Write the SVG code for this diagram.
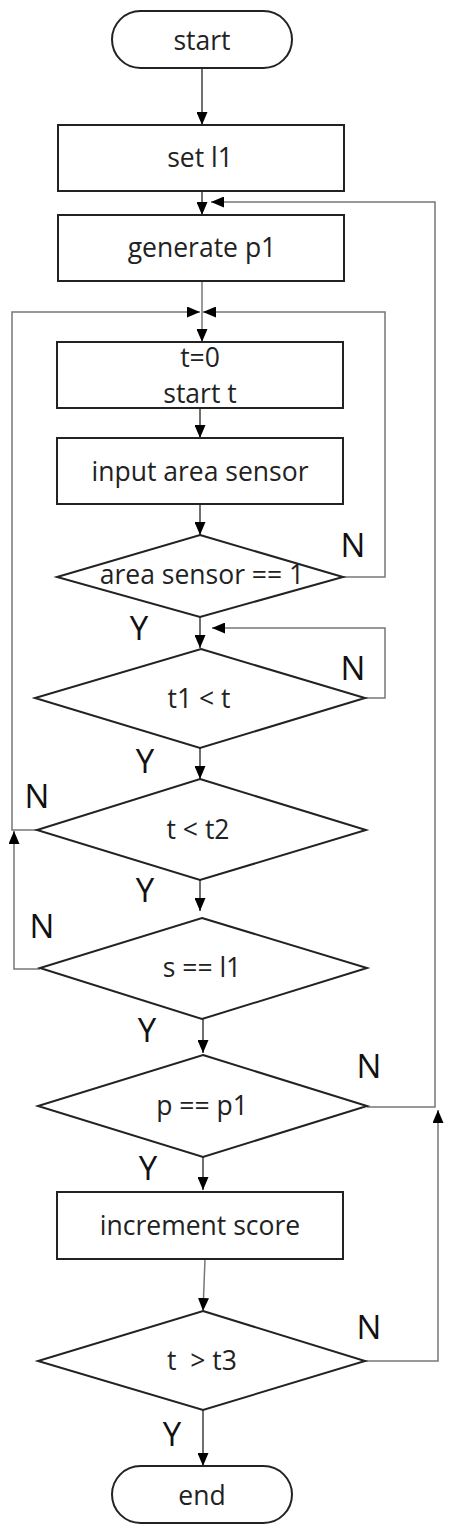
<svg xmlns="http://www.w3.org/2000/svg" width="452" height="1536" viewBox="0 0 452 1536">
<style>
.node{fill:#fff;stroke:#222;stroke-width:2}
.t{font-family:"Open Sans","Noto Sans",sans-serif;font-size:26.5px;fill:#222;text-anchor:middle}
.lb{font-family:"Open Sans","Noto Sans",sans-serif;font-size:33px;fill:#111;text-anchor:middle}
.c{fill:none;stroke:#333;stroke-width:1.4}
.g{fill:none;stroke:#777;stroke-width:1.5}
</style>
<defs>
<marker id="ah" markerUnits="userSpaceOnUse" markerWidth="13" markerHeight="11" refX="13" refY="5.5" orient="auto">
<path d="M0,0 L13,5.5 L0,11 Z" fill="#000"/>
</marker>
</defs>
<rect width="452" height="1536" fill="#fff"/>
<g id="connectors">
<path class="c" d="M202,68 V125" marker-end="url(#ah)"/>
<path class="c" d="M202,191 V215" marker-end="url(#ah)"/>
<path class="g" d="M202,281 V342" marker-end="url(#ah)"/>
<path class="c" d="M200,408 V438" marker-end="url(#ah)"/>
<path class="c" d="M200,504 V535" marker-end="url(#ah)"/>
<path class="c" d="M200,617 V648" marker-end="url(#ah)"/>
<path class="c" d="M200,748 V779" marker-end="url(#ah)"/>
<path class="c" d="M200,880 V911" marker-end="url(#ah)"/>
<path class="c" d="M203,1019 V1053" marker-end="url(#ah)"/>
<path class="c" d="M203,1157 V1190" marker-end="url(#ah)"/>
<path class="g" d="M205,1259 L203,1311" marker-end="url(#ah)"/>
<path class="c" d="M203,1410 V1466" marker-end="url(#ah)"/>
<path class="g" d="M343,577 H385 V312 H203" marker-end="url(#ah)"/>
<path class="g" d="M37,830 H12 V312 H200" marker-end="url(#ah)"/>
<path class="g" d="M365,698 H385 V628 H212" marker-end="url(#ah)"/>
<path class="g" d="M40,969 H14 V831" marker-end="url(#ah)"/>
<path class="g" d="M367,1107 H435 V202 H211" marker-end="url(#ah)"/>
<path class="g" d="M365,1361 H438 V1110" marker-end="url(#ah)"/>
</g>
<g id="start"><rect class="node" x="112" y="11" width="180" height="57" rx="28.5"/><text class="t" x="202" y="50">start</text></g>
<g id="set-l1"><rect class="node" x="58" y="125" width="286" height="66"/><text class="t" x="200" y="167">set l1</text></g>
<g id="generate-p1"><rect class="node" x="58" y="215" width="286" height="66"/><text class="t" x="202" y="257">generate p1</text></g>
<g id="start-t"><rect class="node" x="57" y="342" width="286" height="66"/><text class="t" x="200" y="367">t=0</text><text class="t" x="200" y="403">start t</text></g>
<g id="input-area-sensor"><rect class="node" x="57" y="438" width="286" height="66"/><text class="t" x="200" y="481">input area sensor</text></g>
<g id="d-area-sensor"><polygon class="node" points="200,535 343,577 200,617 57,577"/><text class="t" x="202" y="584">area sensor == 1</text></g>
<g id="d-t1"><polygon class="node" points="201,649 365,698 200,748 35,698"/><text class="t" x="199" y="708">t1 &lt; t</text></g>
<g id="d-t2"><polygon class="node" points="200,779 366,830 200,880 37,830"/><text class="t" x="198" y="839">t &lt; t2</text></g>
<g id="d-s"><polygon class="node" points="202,918 367,968 202,1019 40,968"/><text class="t" x="202" y="977">s == l1</text></g>
<g id="d-p"><polygon class="node" points="203,1055 367,1106 203,1157 38,1106"/><text class="t" x="202" y="1115">p == p1</text></g>
<g id="increment-score"><rect class="node" x="57" y="1192" width="286" height="67"/><text class="t" x="200" y="1235">increment score</text></g>
<g id="d-t3"><polygon class="node" points="203,1311 365,1361 203,1410 38,1361"/><text class="t" x="202" y="1370" xml:space="preserve">t  &gt; t3</text></g>
<g id="end"><rect class="node" x="112" y="1466" width="180" height="57" rx="28.5"/><text class="t" x="202" y="1505">end</text></g>
<g id="labels">
<text class="lb" x="353" y="557">N</text>
<text class="lb" x="139" y="640">Y</text>
<text class="lb" x="353" y="680">N</text>
<text class="lb" x="145" y="773">Y</text>
<text class="lb" x="37" y="808">N</text>
<text class="lb" x="145" y="902">Y</text>
<text class="lb" x="42" y="938">N</text>
<text class="lb" x="147" y="1042">Y</text>
<text class="lb" x="369" y="1078">N</text>
<text class="lb" x="148" y="1180">Y</text>
<text class="lb" x="369" y="1339">N</text>
<text class="lb" x="172" y="1446">Y</text>
</g>
</svg>
